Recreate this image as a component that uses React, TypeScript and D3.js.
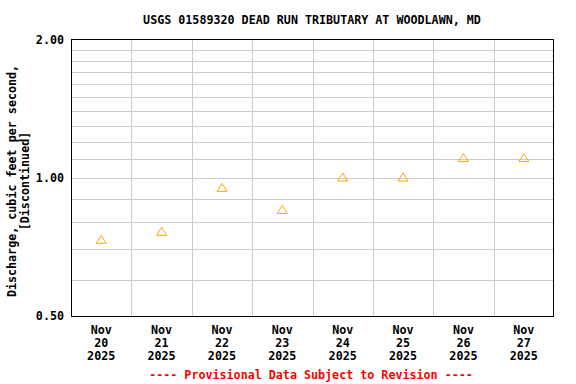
import React from "react";
import * as d3 from "d3";

const title = "USGS 01589320 DEAD RUN TRIBUTARY AT WOODLAWN, MD";
const yLabelLines = ["Discharge, cubic feet per second,", "[Discontinued]"];
const footer = "---- Provisional Data Subject to Revision ----";
const days = ["2025-11-20", "2025-11-21", "2025-11-22", "2025-11-23", "2025-11-24", "2025-11-25", "2025-11-26", "2025-11-27"];
const values = [0.735, 0.765, 0.954, 0.854, 1.005, 1.005, 1.108, 1.108];
const yTicks = [0.5, 1.0, 2.0];
const yGrid = [0.6, 0.7, 0.8, 0.9, 1.0, 1.1, 1.2, 1.3, 1.4, 1.5, 1.6, 1.7, 1.8, 1.9];

const W = 576, H = 384;
const L = 71, R = 554, T = 40, B = 316;
const font = "'DejaVu Sans Mono', monospace";

function parseDay(s: string, hour = 0) {
  const [y, m, d] = s.split("-").map(Number);
  return new Date(Date.UTC(y, m - 1, d, hour));
}

export default function App() {
  const start = parseDay(days[0]);
  const end = new Date(parseDay(days[days.length - 1]).getTime() + 86400000);
  const x = d3.scaleUtc().domain([start, end]).range([L, R]);
  const y = d3.scaleLog().domain([0.5, 2]).range([B, T]);
  const bounds = d3.utcDay.range(start, end).slice(1);
  const monthFmt = d3.utcFormat("%b");
  const dayFmt = d3.utcFormat("%d");
  const yearFmt = d3.utcFormat("%Y");
  return (
    <svg width={W} height={H} style={{ position: "absolute", left: 0, top: 0, background: "#fff" }}>
      <rect x={0} y={0} width={W} height={H} fill="#fff" />
      <g shapeRendering="crispEdges">
        {yGrid.map((v) => (
          <line key={v} x1={L} x2={R} y1={Math.round(y(v)) + 0.5} y2={Math.round(y(v)) + 0.5} stroke="#cccccc" strokeWidth={1} />
        ))}
        {bounds.map((d, i) => (
          <line key={i} x1={Math.round(x(d)) + 0.5} x2={Math.round(x(d)) + 0.5} y1={T} y2={B} stroke="#cccccc" strokeWidth={1} />
        ))}
        <rect x={L + 0.5} y={T - 0.5} width={R - L - 1} height={B - T + 0.5} fill="none" stroke="#000" strokeWidth={1} />
      </g>
      {days.map((d, i) => {
        const cx = x(parseDay(d, 12));
        const cy = y(values[i]);
        return (
          <path key={d} d={`M${cx - 5},${cy + 4}L${cx},${cy - 4}L${cx + 5},${cy + 4}Z`} fill="none" stroke="#FFA500" strokeWidth={1} />
        );
      })}
      <g fontFamily={font} fontWeight="bold" fontSize={11.7} fill="#000">
        <text x={312} y={24} textAnchor="middle">{title}</text>
        {yTicks.map((v) => (
          <text key={v} x={64} y={y(v) + 4} textAnchor="end">{v.toFixed(2)}</text>
        ))}
        {days.map((d) => {
          const cx = x(parseDay(d, 12));
          const dt = parseDay(d);
          return (
            <g key={d}>
              <text x={cx} y={334} textAnchor="middle">{monthFmt(dt)}</text>
              <text x={cx} y={347} textAnchor="middle">{dayFmt(dt)}</text>
              <text x={cx} y={360} textAnchor="middle">{yearFmt(dt)}</text>
            </g>
          );
        })}
        {yLabelLines.map((s, i) => (
          <text key={i} transform={`translate(${16 + i * 12.7},181) rotate(-90)`} textAnchor="middle">{s}</text>
        ))}
        <text x={311} y={379} textAnchor="middle" fill="#FF0000">{footer}</text>
      </g>
    </svg>
  );
}
